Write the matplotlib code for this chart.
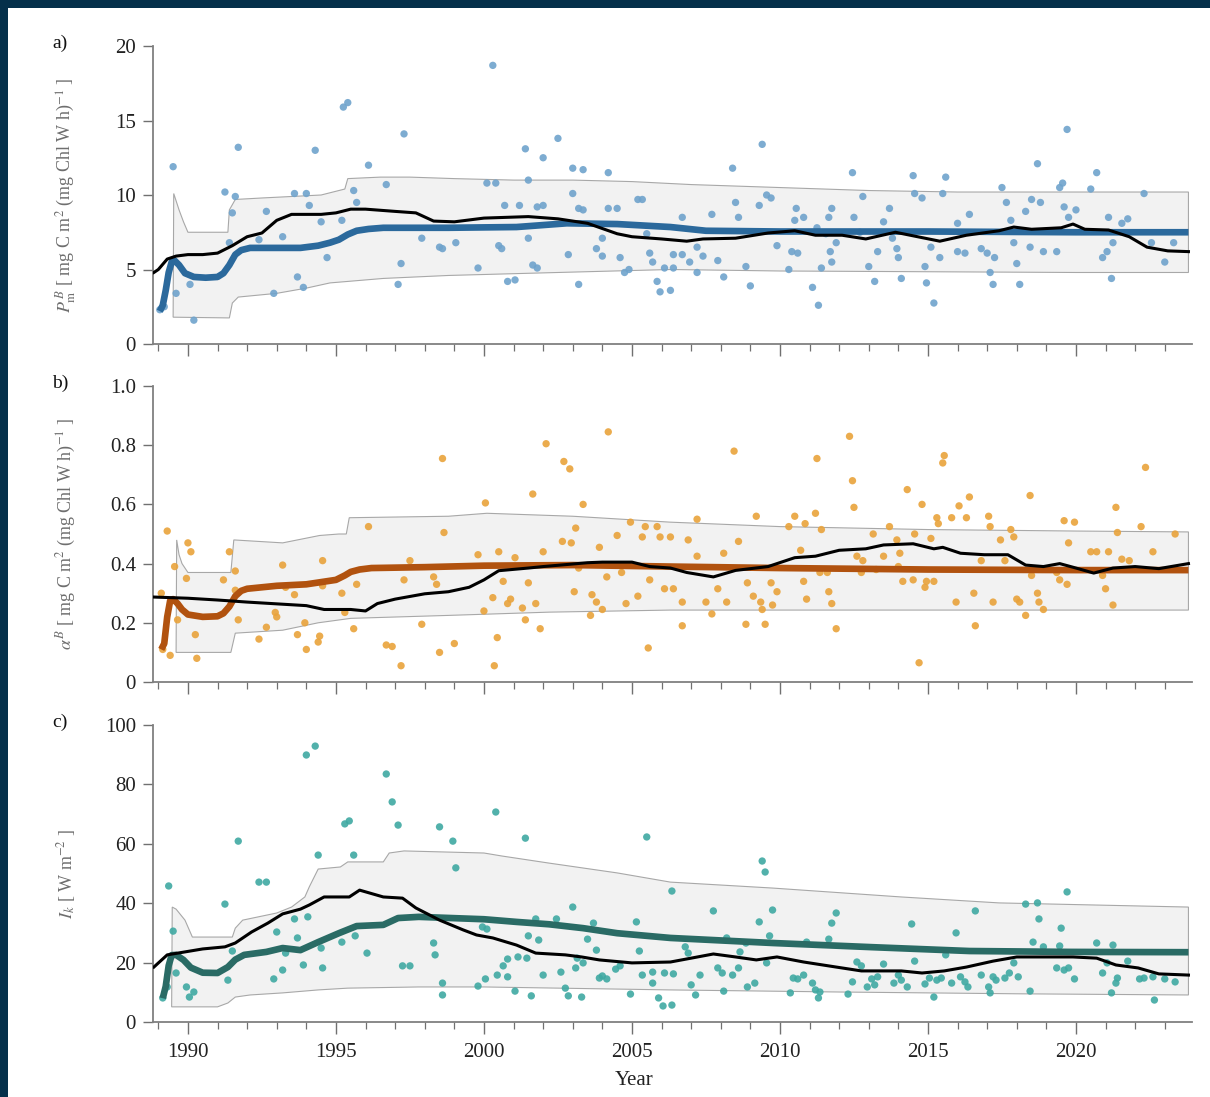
import numpy as np
import matplotlib
matplotlib.use('Agg')
import matplotlib.pyplot as plt
from matplotlib.patches import Rectangle
from matplotlib.ticker import MultipleLocator

plt.rcParams['font.family'] = 'serif'
plt.rcParams['font.serif'] = ['Liberation Serif', 'DejaVu Serif']
plt.rcParams['mathtext.fontset'] = 'stix'

# ---------------- panel a: P_m^B ----------------
pm_year = [1989.05, 1989.2, 1989.5, 1989.6, 1990.07, 1990.2, 1991.25, 1991.6, 1991.5, 1991.7,
           1991.4, 1992.4, 1992.65, 1992.9, 1993.2, 1993.6, 1994.0, 1993.7, 1993.9, 1994.1,
           1994.3, 1994.5, 1994.7, 1995.2, 1995.25, 1995.4, 1995.6, 1995.7, 1996.1, 1996.7,
           1997.1, 1997.2, 1997.3, 1997.9, 1998.5, 1998.6, 1999.05, 1999.8, 2000.1, 2000.4,
           2000.3, 2000.5, 2000.6, 2000.8, 2001.05, 2000.7, 2001.2, 2001.4, 2001.5, 2001.5,
           2001.65, 2001.8, 2001.8, 2002.0, 2002.0, 2002.5, 2002.85, 2003.0, 2003.0, 2003.2,
           2003.2, 2003.35, 2003.35, 2003.8, 2004.0, 2004.0, 2004.2, 2004.5, 2004.6, 2004.75,
           2004.9, 2005.2, 2005.35, 2005.5, 2005.6, 2005.7, 2005.85, 2005.95, 2006.1, 2004.2,
           2006.7, 2006.4, 2006.4, 2006.3, 2006.7, 2006.95, 2007.2, 2007.2, 2007.4, 2007.7,
           2007.9, 2008.1, 2008.4, 2008.5, 2008.6, 2008.85, 2009.0, 2009.3, 2009.4, 2009.55,
           2009.7, 2009.9, 2010.3, 2010.4, 2010.6, 2010.5, 2010.55, 2010.8, 2011.1, 2011.3,
           2011.4, 2011.25, 2011.55, 2011.7, 2011.75, 2011.65, 2011.75, 2011.9, 2012.45, 2012.5,
           2012.8, 2012.7, 2013.0, 2013.2, 2013.3, 2013.5, 2013.7, 2013.8, 2013.95, 2014.0,
           2014.1, 2014.5, 2014.55, 2014.8, 2014.9, 2014.95, 2015.1, 2015.2, 2015.4, 2015.5,
           2015.6, 2016.0, 2016.0, 2016.25, 2016.4, 2016.8, 2017.0, 2017.1, 2017.2, 2017.25,
           2017.5, 2017.65, 2017.8, 2017.9, 2018.0, 2018.1, 2018.3, 2018.45, 2018.5, 2018.7,
           2018.8, 2018.9, 2019.35, 2019.45, 2019.55, 2019.6, 2019.7, 2019.75, 2020.0, 2020.5,
           2020.7, 2020.9, 2021.05, 2021.1, 2021.2, 2021.25, 2021.55, 2021.75, 2022.3, 2022.55,
           2023.0, 2023.3]
pm_val = [2.3, 2.5, 11.9, 3.4, 4.0, 1.6, 10.2, 9.9, 8.8, 13.2,
          6.8, 7.0, 8.9, 3.4, 7.2, 10.1, 10.1, 4.5, 3.8, 9.3,
          13.0, 8.2, 5.8, 8.3, 15.9, 16.2, 10.3, 9.5, 12.0, 10.7,
          4.0, 5.4, 14.1, 7.1, 6.5, 6.4, 6.8, 5.1, 10.8, 10.8,
          18.7, 6.6, 6.4, 4.2, 4.3, 9.3, 9.3, 13.1, 11.0, 7.1,
          5.3, 5.1, 9.2, 9.3, 12.5, 13.8, 6.0, 10.1, 11.8, 4.0,
          9.1, 11.7, 9.0, 6.4, 7.1, 5.9, 11.5, 9.1, 5.8, 4.8,
          5.0, 9.7, 9.7, 7.4, 6.1, 5.5, 4.2, 3.5, 5.1, 9.1,
          8.5, 6.0, 5.1, 3.6, 6.0, 5.5, 4.8, 6.5, 5.9, 8.7,
          5.6, 4.5, 11.8, 9.5, 8.5, 5.2, 3.9, 9.3, 13.4, 10.0,
          9.8, 6.6, 5.0, 6.2, 6.1, 8.3, 9.1, 8.5, 3.8, 2.6,
          5.1, 7.8, 7.4, 6.2, 5.5, 8.5, 9.1, 6.8, 11.5, 8.5,
          9.9, 7.5, 5.2, 4.2, 6.2, 8.2, 9.1, 7.1, 6.4, 5.8,
          4.4, 11.3, 10.1, 9.8, 5.2, 4.1, 6.5, 2.75, 5.8, 10.1,
          11.2, 8.1, 6.2, 6.1, 8.7, 6.4, 6.1, 4.8, 4.0, 5.8,
          10.5, 9.5, 8.3, 6.8, 5.4, 4.0, 8.9, 6.5, 9.7, 12.1,
          9.5, 6.2, 6.2, 10.5, 10.8, 9.2, 14.4, 8.5, 9.0, 10.4,
          11.5, 5.8, 6.2, 8.5, 4.4, 6.8, 8.1, 8.4, 10.1, 6.8,
          5.5, 6.8]

pm_fit_year = [1989.05, 1989.15, 1989.25, 1989.35, 1989.45, 1989.55, 1989.7, 1989.9, 1990.2, 1990.6,
               1991.0, 1991.2, 1991.4, 1991.6, 1991.8, 1992.1, 1993.2, 1993.8, 1994.4, 1994.8,
               1995.1, 1995.4, 1995.7, 1996.1, 1996.6, 1998.8, 2001.1, 2002.8, 2004.5, 2006.3,
               2007.5, 2010, 2015, 2020, 2023.8]
pm_fit = [2.2, 2.6, 3.6, 4.8, 5.5, 5.6, 5.3, 4.75, 4.5, 4.45,
          4.5, 4.75, 5.3, 6.0, 6.3, 6.45, 6.45, 6.45, 6.6, 6.8,
          7.0, 7.35, 7.6, 7.72, 7.8, 7.8, 7.85, 8.1, 8.05, 7.85,
          7.6, 7.55, 7.55, 7.5, 7.5]

pm_run_year = [1988.85, 1989.0, 1989.3, 1989.6, 1990.0, 1990.5, 1991.0, 1991.5, 1992.0, 1992.5,
               1993.0, 1993.5, 1994.5, 1995.0, 1995.5, 1996.0, 1997.0, 1997.7, 1998.3, 1999.0,
               2000.0, 2001.5, 2002.5, 2003.5, 2004.5, 2005.0, 2006.0, 2006.85, 2007.4, 2008.5,
               2009.6, 2010.5, 2011.2, 2012.1, 2012.9, 2013.9, 2015.4, 2016.3, 2017.4, 2017.9,
               2018.5, 2019.5, 2019.9, 2020.3, 2021.1, 2021.8, 2022.4, 2023.1, 2023.8]
pm_run = [4.8, 5.0, 5.7, 5.9, 6.0, 6.0, 6.1, 6.6, 7.2, 7.45,
          8.3, 8.7, 8.7, 8.8, 9.05, 9.05, 8.9, 8.8, 8.25, 8.2,
          8.45, 8.55, 8.4, 8.1, 7.4, 7.2, 7.05, 6.9, 7.05, 7.1,
          7.45, 7.6, 7.3, 7.3, 7.05, 7.5, 6.9, 7.3, 7.6, 7.85,
          7.7, 7.8, 8.05, 7.7, 7.65, 7.2, 6.5, 6.25, 6.2]

pm_hi_year = [1989.5, 1989.52, 1989.7, 1989.85, 1990.0, 1991.35, 1991.4, 1991.6, 1992.5, 1993.5,
              1994.5, 1995.3, 1995.4, 1996.5, 1997.5, 1999, 2001, 2003, 2005, 2007,
              2010, 2013, 2016, 2019, 2022, 2023.8]
pm_hi = [1.8, 10.1, 9.0, 8.2, 7.5, 7.5, 9.0, 9.7, 9.8, 9.9,
         10.0, 10.4, 11.1, 11.2, 11.2, 11.1, 11.0, 11.0, 10.9, 10.7,
         10.5, 10.3, 10.2, 10.2, 10.2, 10.2]
pm_lo_year = [1989.5, 1991.4, 1991.5, 1991.7, 1993.0, 1994.0, 1994.8, 1996.6, 1998.8, 2002.5,
              2006.3, 2010, 2015, 2020, 2023.8]
pm_lo = [1.8, 1.75, 2.75, 3.15, 3.4, 3.75, 4.1, 4.4, 4.6, 4.8,
         5.0, 4.9, 4.85, 4.8, 4.8]

# ---------------- panel b: alpha^B ----------------
al_year = [1989.1, 1989.15, 1989.3, 1989.4, 1989.55, 1989.65, 1989.95, 1990.0, 1990.1, 1990.25,
           1990.3, 1991.2, 1991.4, 1991.6, 1991.6, 1991.7, 1992.4, 1992.65, 1992.95, 1993.0,
           1993.2, 1993.3, 1993.6, 1993.7, 1993.95, 1994.0, 1994.4, 1994.45, 1994.55, 1994.55,
           1995.2, 1995.3, 1995.6, 1995.7, 1996.1, 1996.7, 1996.9, 1997.2, 1997.3, 1997.5,
           1997.9, 1998.3, 1998.4, 1998.5, 1998.6, 1998.65, 1999.0, 1999.8, 2000.0, 2000.05,
           2000.3, 2000.45, 2000.35, 2000.5, 2000.65, 2000.8, 2000.9, 2001.05, 2001.3, 2001.4,
           2001.5, 2001.65, 2001.75, 2001.9, 2002.0, 2002.1, 2002.65, 2002.7, 2002.9, 2002.95,
           2003.05, 2003.1, 2003.2, 2003.35, 2003.6, 2003.65, 2003.8, 2003.9, 2004.0, 2004.15,
           2004.2, 2004.5, 2004.65, 2004.8, 2004.95, 2005.2, 2005.35, 2005.45, 2005.55, 2005.6,
           2005.85, 2005.95, 2006.1, 2006.3, 2006.4, 2006.7, 2006.7, 2006.9, 2007.2, 2007.2,
           2007.5, 2007.7, 2007.9, 2008.1, 2008.2, 2008.45, 2008.6, 2008.9, 2008.85, 2009.1,
           2009.2, 2009.35, 2009.4, 2009.5, 2009.7, 2009.9, 2009.75, 2010.3, 2010.5, 2010.7,
           2010.8, 2010.85, 2010.9, 2011.2, 2011.25, 2011.4, 2011.35, 2011.6, 2011.65, 2011.75,
           2011.9, 2012.35, 2012.45, 2012.5, 2012.6, 2012.8, 2012.75, 2013.15, 2013.25, 2013.5,
           2013.7, 2013.95, 2014.0, 2014.05, 2014.15, 2014.3, 2014.5, 2014.55, 2014.7, 2014.8,
           2014.9, 2014.95, 2015.1, 2015.2, 2015.3, 2015.35, 2015.5, 2015.55, 2015.8, 2015.95,
           2016.05, 2016.3, 2016.4, 2016.55, 2016.6, 2016.8, 2017.05, 2017.1, 2017.2, 2017.45,
           2017.6, 2017.8, 2017.9, 2018.0, 2018.1, 2018.3, 2018.45, 2018.5, 2018.7, 2018.75,
           2018.9, 2019.35, 2019.45, 2019.6, 2019.7, 2019.75, 2019.95, 2020.5, 2020.7, 2020.9,
           2021.0, 2021.1, 2021.25, 2021.35, 2021.4, 2021.55, 2021.8, 2022.2, 2022.35, 2022.6,
           2023.35]
al_val = [0.30, 0.11, 0.51, 0.09, 0.39, 0.21, 0.35, 0.47, 0.44, 0.16,
          0.08, 0.345, 0.44, 0.375, 0.31, 0.21, 0.145, 0.185, 0.235, 0.22,
          0.395, 0.32, 0.295, 0.16, 0.20, 0.11, 0.135, 0.155, 0.41, 0.325,
          0.30, 0.235, 0.18, 0.33, 0.525, 0.125, 0.12, 0.055, 0.345, 0.41,
          0.195, 0.355, 0.33, 0.10, 0.755, 0.505, 0.13, 0.43, 0.24, 0.605,
          0.285, 0.15, 0.055, 0.44, 0.34, 0.265, 0.28, 0.42, 0.25, 0.21,
          0.335, 0.635, 0.265, 0.18, 0.44, 0.805, 0.475, 0.745, 0.72, 0.47,
          0.305, 0.52, 0.385, 0.60, 0.225, 0.295, 0.27, 0.455, 0.245, 0.355,
          0.845, 0.495, 0.37, 0.265, 0.54, 0.29, 0.49, 0.525, 0.115, 0.345,
          0.525, 0.49, 0.315, 0.49, 0.315, 0.27, 0.19, 0.48, 0.425, 0.55,
          0.27, 0.23, 0.315, 0.435, 0.27, 0.78, 0.475, 0.335, 0.195, 0.29,
          0.56, 0.27, 0.245, 0.195, 0.335, 0.305, 0.26, 0.525, 0.56, 0.445,
          0.34, 0.535, 0.28, 0.57, 0.755, 0.515, 0.37, 0.37, 0.305, 0.265,
          0.18, 0.83, 0.68, 0.59, 0.425, 0.41, 0.37, 0.50, 0.38, 0.425,
          0.525, 0.48, 0.39, 0.435, 0.34, 0.65, 0.345, 0.50, 0.065, 0.60,
          0.32, 0.34, 0.485, 0.34, 0.555, 0.535, 0.74, 0.765, 0.555, 0.27,
          0.595, 0.555, 0.625, 0.30, 0.19, 0.41, 0.56, 0.525, 0.27, 0.48,
          0.41, 0.515, 0.49, 0.28, 0.27, 0.225, 0.63, 0.36, 0.30, 0.27,
          0.245, 0.37, 0.345, 0.545, 0.33, 0.47, 0.54, 0.44, 0.44, 0.36,
          0.315, 0.44, 0.26, 0.59, 0.505, 0.415, 0.41, 0.525, 0.725, 0.44,
          0.50]

al_fit_year = [1989.1, 1989.2, 1989.3, 1989.4, 1989.5, 1989.65, 1989.8, 1990.0, 1990.5, 1991.0,
               1991.2, 1991.4, 1991.6, 1991.8, 1992.0, 1993.0, 1994.0, 1995.0, 1995.3, 1995.5,
               1995.8, 1996.2, 1998, 2000, 2003, 2006.3, 2010, 2015, 2020, 2023.8]
al_fit = [0.11, 0.13, 0.22, 0.275, 0.28, 0.265, 0.245, 0.228, 0.22, 0.222,
          0.232, 0.255, 0.29, 0.308, 0.315, 0.325, 0.33, 0.345, 0.36, 0.372,
          0.38, 0.385, 0.388, 0.393, 0.395, 0.39, 0.385, 0.38, 0.378, 0.378]

al_run_year = [1988.85, 1990, 1991, 1992, 1993, 1994, 1994.6, 1995.5, 1996, 1996.4,
               1997, 1998, 1998.8, 1999.5, 2000, 2000.5, 2001.5, 2002, 2003.5, 2004,
               2005, 2005.6, 2006.3, 2006.85, 2007.75, 2008.5, 2009.6, 2010.5, 2011.2, 2012.0,
               2012.9, 2013.5, 2014.5, 2015.2, 2015.5, 2016.1, 2016.9, 2017.7, 2018.3, 2018.9,
               2019.45, 2020.0, 2020.6, 2021.25, 2022.0, 2022.8, 2023.8]
al_run = [0.287, 0.283, 0.277, 0.27, 0.264, 0.258, 0.245, 0.245, 0.24, 0.265,
          0.28, 0.298, 0.305, 0.32, 0.345, 0.376, 0.385, 0.39, 0.403, 0.405,
          0.405, 0.39, 0.385, 0.37, 0.355, 0.377, 0.39, 0.42, 0.425, 0.445,
          0.45, 0.463, 0.467, 0.45, 0.455, 0.435, 0.43, 0.43, 0.395, 0.39,
          0.40, 0.385, 0.368, 0.385, 0.39, 0.383, 0.40]

al_hi_year = [1989.6, 1989.62, 1989.7, 1989.8, 1990.0, 1991.45, 1991.55, 1993.2, 1994.45, 1995.1,
              1995.35, 1995.45, 1998.8, 2000.1, 2003, 2006.3, 2010, 2015, 2020, 2023.8]
al_hi = [0.10, 0.48, 0.43, 0.40, 0.37, 0.37, 0.48, 0.47, 0.495, 0.50,
         0.50, 0.555, 0.56, 0.57, 0.56, 0.54, 0.525, 0.515, 0.51, 0.507]
al_lo_year = [1989.6, 1991.45, 1991.6, 1993.2, 1994.4, 1995.5, 1998.8, 2002.2, 2006.3, 2015, 2023.8]
al_lo = [0.10, 0.10, 0.165, 0.175, 0.20, 0.215, 0.225, 0.236, 0.243, 0.243, 0.243]

# ---------------- panel c: I_k ----------------
ik_year = [1989.15, 1989.3, 1989.35, 1989.5, 1989.6, 1989.95, 1990.05, 1990.2, 1991.25, 1991.35,
           1991.5, 1991.7, 1992.4, 1992.65, 1992.9, 1993.0, 1993.2, 1993.3, 1993.6, 1993.7,
           1993.9, 1994.0, 1994.05, 1994.3, 1994.4, 1994.5, 1994.55, 1995.2, 1995.3, 1995.45,
           1995.6, 1995.65, 1996.05, 1996.7, 1996.9, 1997.1, 1997.25, 1997.5, 1998.3, 1998.35,
           1998.5, 1998.6, 1998.6, 1998.95, 1999.05, 1999.8, 1999.95, 2000.1, 2000.05, 2000.4,
           2000.45, 2000.65, 2000.8, 2000.8, 2001.05, 2001.15, 2001.4, 2001.45, 2001.5, 2001.6,
           2001.75, 2001.85, 2002.0, 2002.45, 2002.6, 2002.75, 2002.85, 2003.0, 2003.1, 2003.15,
           2003.3, 2003.35, 2003.5, 2003.7, 2003.8, 2003.9, 2004.0, 2004.15, 2004.45, 2004.6,
           2004.95, 2005.15, 2005.25, 2005.35, 2005.5, 2005.7, 2005.7, 2005.9, 2006.05, 2006.1,
           2006.35, 2006.35, 2006.4, 2006.8, 2006.9, 2007.0, 2007.15, 2007.3, 2007.75, 2007.9,
           2008.05, 2008.1, 2008.2, 2008.4, 2008.6, 2008.65, 2008.85, 2008.9, 2009.15, 2009.3,
           2009.4, 2009.5, 2009.55, 2009.65, 2009.75, 2010.35, 2010.45, 2010.6, 2010.8, 2010.9,
           2011.1, 2011.2, 2011.3, 2011.35, 2011.65, 2011.75, 2011.9, 2012.3, 2012.45, 2012.6,
           2012.75, 2012.95, 2013.1, 2013.2, 2013.3, 2013.5, 2013.85, 2014.0, 2014.1, 2014.3,
           2014.45, 2014.55, 2014.9, 2015.05, 2015.2, 2015.3, 2015.45, 2015.6, 2015.8, 2015.95,
           2016.1, 2016.25, 2016.35, 2016.6, 2016.8, 2017.05, 2017.1, 2017.2, 2017.3, 2017.6,
           2017.75, 2017.9, 2018.05, 2018.3, 2018.45, 2018.55, 2018.7, 2018.75, 2018.9, 2019.35,
           2019.45, 2019.5, 2019.6, 2019.7, 2019.75, 2019.95, 2020.7, 2020.9, 2021.05, 2021.2,
           2021.25, 2021.35, 2021.4, 2021.75, 2022.15, 2022.3, 2022.6, 2022.65, 2023.0, 2023.35]
ik_val = [8.1, 11.8, 45.8, 30.6, 16.5, 11.8, 8.4, 10.1, 39.7, 14.1,
          23.9, 60.9, 47.1, 47.1, 14.5, 30.3, 17.5, 23.2, 34.7, 28.3,
          19.2, 89.9, 35.4, 92.9, 56.2, 24.9, 18.2, 26.9, 66.7, 67.7,
          56.2, 29.0, 23.2, 83.5, 74.1, 66.3, 18.9, 18.9, 26.6, 22.6,
          65.7, 13.1, 9.1, 60.9, 51.9, 12.1, 32.0, 31.3, 14.5, 70.7,
          15.8, 18.9, 15.2, 21.2, 10.4, 21.9, 61.9, 21.5, 29.0, 8.8,
          34.7, 27.6, 15.8, 34.7, 16.8, 11.4, 8.8, 38.7, 18.2, 21.5,
          8.4, 19.9, 27.9, 33.3, 24.2, 14.8, 15.5, 14.5, 17.8, 18.9,
          9.4, 33.7, 23.9, 15.8, 62.3, 13.1, 16.8, 8.1, 5.4, 16.5,
          44.1, 5.7, 16.2, 25.3, 23.2, 12.5, 9.1, 15.8, 37.4, 18.2,
          16.5, 10.4, 28.3, 15.8, 18.2, 23.6, 26.6, 11.8, 13.1, 33.7,
          54.2, 50.5, 19.9, 29.0, 37.7, 9.8, 14.8, 14.5, 15.8, 26.9,
          13.1, 10.8, 8.1, 10.1, 27.9, 33.3, 36.7, 9.4, 13.5, 20.2,
          18.9, 11.8, 14.5, 12.5, 15.2, 19.5, 13.1, 15.8, 14.1, 11.8,
          33.0, 20.5, 12.8, 14.8, 8.4, 14.1, 14.8, 22.6, 13.1, 30.0,
          15.2, 13.5, 11.8, 37.4, 15.8, 11.8, 9.8, 15.2, 14.1, 14.8,
          16.5, 19.9, 15.2, 39.7, 10.4, 26.9, 40.1, 34.7, 25.3, 18.2,
          25.6, 31.6, 17.5, 43.8, 18.2, 14.5, 26.6, 16.5, 19.9, 9.8,
          25.9, 13.1, 14.8, 20.5, 14.5, 14.8, 15.2, 7.4, 14.5, 13.5]

ik_fit_year = [1989.15, 1989.25, 1989.35, 1989.45, 1989.6, 1989.85, 1990.1, 1990.5, 1991.0, 1991.35,
               1991.6, 1991.9, 1992.65, 1993.2, 1993.8, 1994.4, 1995.1, 1995.7, 1996.6, 1997.1,
               1997.8, 1998.9, 2000.0, 2001.1, 2002.2, 2003.35, 2004.5, 2006.3, 2009.75, 2013.1,
               2016.4, 2019.8, 2023.8]
ik_fit = [8, 12, 19, 22.5, 22.6, 20.9, 18.3, 16.6, 16.5, 18.5,
          21.0, 22.6, 23.6, 24.9, 24.2, 26.9, 29.9, 32.3, 32.7, 35.0,
          35.4, 35.0, 34.6, 33.7, 32.9, 31.6, 29.9, 28.3, 26.6, 25.2,
          23.9, 23.6, 23.5]

ik_run_year = [1988.85, 1989.3, 1989.9, 1990.5, 1991.25, 1991.6, 1992.15, 1992.7, 1993.2, 1993.8,
               1994.1, 1994.6, 1995.45, 1995.8, 1996.6, 1997.25, 1997.7, 1998.5, 1999.3, 1999.75,
               2000.3, 2001.1, 2001.75, 2002.75, 2003.3, 2003.9, 2005.0, 2006.3, 2007.0, 2007.75,
               2008.5, 2009.2, 2009.9, 2010.8, 2011.9, 2012.75, 2014.1, 2014.8, 2015.55, 2016.3,
               2017.2, 2018.0, 2019.1, 2019.9, 2020.7, 2021.35, 2022.1, 2022.8, 2023.8]
ik_run = [18.5, 22.6, 23.6, 24.6, 25.3, 26.6, 30.3, 33.3, 36.4, 38.0,
          39.4, 42.1, 42.1, 44.4, 42.1, 41.7, 38.4, 34.3, 31.0, 29.3,
          28.3, 25.9, 23.2, 22.6, 21.9, 20.9, 19.9, 20.2, 21.5, 22.9,
          21.9, 20.9, 21.9, 20.2, 18.5, 17.2, 17.2, 16.5, 17.2, 18.5,
          20.5, 21.9, 21.9, 21.9, 21.5, 19.2, 18.2, 16.2, 15.8]

ik_hi_year = [1989.45, 1989.47, 1989.6, 1989.9, 1990.15, 1991.5, 1991.6, 1991.85, 1993.0, 1993.5,
              1993.95, 1994.1, 1994.4, 1995.15, 1995.4, 1996.6, 1996.8, 1997.3, 2000.0, 2000.6,
              2002.2, 2004.5, 2006.3, 2009.75, 2014.1, 2017.4, 2023.8]
ik_hi = [5.1, 38.7, 38.0, 34.3, 28.6, 28.6, 31.6, 34.3, 36.7, 38.7,
         42.1, 45.5, 51.5, 52.2, 53.9, 53.9, 56.9, 57.6, 56.9, 55.9,
         53.5, 50.2, 47.1, 45.1, 42.1, 40.1, 38.7]
ik_lo_year = [1989.45, 1991.0, 1991.35, 1991.6, 1992.1, 1993.2, 1994.4, 1995.4, 1997.8, 2000.0,
              2006.3, 2012, 2018, 2023.8]
ik_lo = [5.1, 5.1, 6.4, 8.4, 9.1, 9.8, 10.8, 11.4, 11.8, 11.8,
         10.8, 10.1, 9.5, 9.1]

W, H = 1210, 1097
fig = plt.figure(figsize=(W / 100, H / 100), dpi=100, facecolor='#05304a')
fig.patches.append(Rectangle((8 / W, 0), 1 - 8 / W, 1 - 8 / H, transform=fig.transFigure,
                             facecolor='white', edgecolor='none', zorder=-10))

panels = [
    dict(top=46, bot=344, sc=(pm_year, pm_val), fit=(pm_fit_year, pm_fit), run=(pm_run_year, pm_run),
         hi=(pm_hi_year, pm_hi), lo=(pm_lo_year, pm_lo), dot='#6fa3cc', line='#2b699c',
         ylim=(0, 20), yt=[0, 5, 10, 15, 20], ytl=['0', '5', '10', '15', '20'], tag='a)',
         ylab=r'$P_\mathrm{m}^{\,B}$ [ mg C m$^2$ (mg Chl W h)$^{-1}$ ]'),
    dict(top=386, bot=682, sc=(al_year, al_val), fit=(al_fit_year, al_fit), run=(al_run_year, al_run),
         hi=(al_hi_year, al_hi), lo=(al_lo_year, al_lo), dot='#e9a33b', line='#b1520f',
         ylim=(0, 1), yt=[0, 0.2, 0.4, 0.6, 0.8, 1.0], ytl=['0', '0.2', '0.4', '0.6', '0.8', '1.0'],
         tag='b)', ylab=r'$\alpha^B$ [ mg C m$^2$ (mg Chl W h)$^{-1}$ ]'),
    dict(top=725, bot=1022, sc=(ik_year, ik_val), fit=(ik_fit_year, ik_fit), run=(ik_run_year, ik_run),
         hi=(ik_hi_year, ik_hi), lo=(ik_lo_year, ik_lo), dot='#3fa9a2', line='#2a6b65',
         ylim=(0, 100), yt=[0, 20, 40, 60, 80, 100], ytl=['0', '20', '40', '60', '80', '100'],
         tag='c)', ylab=r'$I_k$ [ W m$^{-2}$ ]'),
]

left, right = 153, 1192
for i, p in enumerate(panels):
    ax = fig.add_axes([left / W, 1 - p['bot'] / H, (right - left) / W, (p['bot'] - p['top']) / H])
    ax.set_facecolor('white')

    # envelope band
    bx = list(p['hi'][0]) + list(p['lo'][0])[::-1]
    by = list(p['hi'][1]) + list(p['lo'][1])[::-1]
    ax.fill(bx, by, facecolor='#f2f2f2', edgecolor='#a8a8a8', lw=0.8, zorder=1)

    ax.scatter(p['sc'][0], p['sc'][1], s=28, color=p['dot'], alpha=0.9, edgecolors='none', zorder=2)
    ax.plot(p['fit'][0], p['fit'][1], color=p['line'], lw=4.8, solid_capstyle='butt',
            solid_joinstyle='round', zorder=3)
    ax.plot(p['run'][0], p['run'][1], color='black', lw=2.2, solid_joinstyle='round', zorder=4)

    ax.set_xlim(1988.82, 2023.92)
    ax.set_ylim(*p['ylim'])
    ax.set_yticks(p['yt'])
    ax.set_yticklabels(p['ytl'])
    ax.xaxis.set_major_locator(MultipleLocator(5))
    ax.xaxis.set_minor_locator(MultipleLocator(1))

    for s in ['top', 'right']:
        ax.spines[s].set_visible(False)
    for s in ['left', 'bottom']:
        ax.spines[s].set_color('#808080')
        ax.spines[s].set_linewidth(1.3)

    ax.tick_params(axis='both', which='major', direction='out', width=1.0,
                   color='#707070', labelsize=15, labelcolor='#222222')
    ax.tick_params(axis='y', length=7.2, pad=5)
    ax.tick_params(axis='x', which='major', length=8.4, pad=7)
    ax.tick_params(axis='x', which='minor', direction='out', length=4.8, width=0.9, color='#707070')
    if i < 2:
        ax.tick_params(axis='x', labelbottom=False)
    else:
        ax.set_xlabel('Year', fontsize=15, color='#222222')
        ax.xaxis.set_label_coords((634 - left) / (right - left), -0.165)

    ax.set_ylabel(p['ylab'], fontsize=13, color='#6e6e6e')
    ax.yaxis.set_label_coords((78 - left) / (right - left), 0.5)

    fig.text(52 / W, 1 - (p['top'] + 2) / H, p['tag'], fontsize=14, color='#111111')

fig.savefig('out.png', dpi=100, facecolor=fig.get_facecolor())
